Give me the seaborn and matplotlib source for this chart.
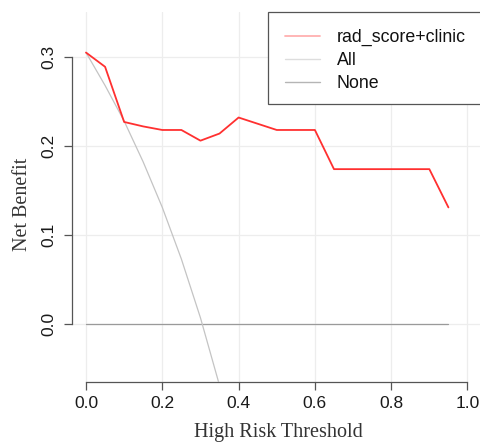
import numpy as np
import pandas as pd
import matplotlib
matplotlib.use("Agg")
import matplotlib.pyplot as plt
import seaborn as sns
from matplotlib.lines import Line2D
from matplotlib.patches import Rectangle

# ---- data ----
thresholds = [0.00, 0.05, 0.10, 0.15, 0.20, 0.25, 0.30, 0.35, 0.40, 0.45,
              0.50, 0.55, 0.60, 0.65, 0.70, 0.75, 0.80, 0.85, 0.90, 0.95]
model_nb = [0.305, 0.289, 0.227, 0.222, 0.218, 0.218, 0.206, 0.214, 0.232, 0.225,
            0.218, 0.218, 0.218, 0.174, 0.174, 0.174, 0.174, 0.174, 0.174, 0.131]
all_thresholds = [0.00, 0.05, 0.10, 0.15, 0.20, 0.25, 0.30, 0.35]
all_nb = [0.305, 0.268, 0.228, 0.182, 0.131, 0.073, 0.007, -0.069]
none_thresholds = [0.00, 0.95]
none_nb = [0.0, 0.0]
labels = ["rad_score+clinic", "All", "None"]
x_ticks = [0.0, 0.2, 0.4, 0.6, 0.8, 1.0]
y_ticks = [0.0, 0.1, 0.2, 0.3]

sns.set_style("white")
plt.rcParams['font.family'] = ['Liberation Sans', 'DejaVu Sans']

W, H = 481, 444
fig = plt.figure(figsize=(W / 100, H / 100), dpi=100)
# axes in pixel coords: left 72, right 481, top 12, bottom 382
ax = fig.add_axes([72 / W, 1 - 382 / H, (481 - 72) / W, (382 - 12) / H])

df_model = pd.DataFrame({"t": thresholds, "nb": model_nb})
df_all = pd.DataFrame({"t": all_thresholds, "nb": all_nb})
df_none = pd.DataFrame({"t": none_thresholds, "nb": none_nb})

grid_c = "#EDEDED"
for xt in x_ticks:
    ax.axvline(xt, color=grid_c, lw=0.9, zorder=0)
for yt in y_ticks:
    ax.axhline(yt, color=grid_c, lw=0.9, zorder=0)

sns.lineplot(data=df_none, x="t", y="nb", color="#9A9A9A", lw=0.9, ax=ax, legend=False, zorder=2)
sns.lineplot(data=df_all, x="t", y="nb", color="#C4C4C4", lw=0.9, ax=ax, legend=False, zorder=3)
sns.lineplot(data=df_model, x="t", y="nb", color="#FF3030", lw=1.3, ax=ax, legend=False, zorder=4)

ax.set_xlim((72 - 86) / 381.5, (481 - 86) / 381.5)
ax.set_ylim(-(382 - 324) / 890, 0.3 + (57 - 12) / 890)

ax.set_xticks(x_ticks)
ax.set_xticklabels([f"{v:.1f}" for v in x_ticks])
ax.set_yticks(y_ticks)
ax.set_yticklabels([f"{v:.1f}" for v in y_ticks], rotation=90, va="center")

for s in ["top", "right"]:
    ax.spines[s].set_visible(False)
ax.spines["left"].set_bounds(0.0, 0.3)
ax.spines["bottom"].set_bounds(0.0, 1.0)
for s in ["left", "bottom"]:
    ax.spines[s].set_color("#555555")
    ax.spines[s].set_linewidth(0.9)

ax.tick_params(axis="both", direction="out", length=5.5, width=0.9, color="#555555",
               labelsize=12.5, labelcolor="#1A1A1A")
ax.tick_params(axis="x", pad=4.5, bottom=True)
ax.tick_params(axis="y", pad=5.5, left=True)

ax.set_xlabel("High Risk Threshold", family=["Liberation Serif", "DejaVu Serif"],
              fontsize=14.5, color="#333333")
ax.set_ylabel("Net Benefit", family=["Liberation Serif", "DejaVu Serif"],
              fontsize=14.5, color="#333333")
ax.xaxis.set_label_coords((278 - 72) / 409, (382 - 432) / 370)
ax.xaxis.label.set_va("center")
ax.yaxis.set_label_coords((22 - 72) / 409, (382 - 204) / 370)
ax.yaxis.label.set_va("center")

# legend
fig.patches.append(Rectangle((268 / W, 1 - 104 / H), (490 - 268) / W, (104 - 12) / H,
                             transform=fig.transFigure, fill=True, facecolor="white",
                             edgecolor="#555555", lw=0.9, zorder=10))
handles = [Line2D([], [], color="#FFB0B0", lw=1.3),
           Line2D([], [], color="#DDDDDD", lw=1.0),
           Line2D([], [], color="#B5B5B5", lw=1.0)]
leg = fig.legend(handles, labels, loc="upper left",
                 bbox_to_anchor=(285 / W, 1 - 29 / H), frameon=False,
                 fontsize=12.8, handlelength=1.95, handletextpad=0.95,
                 labelspacing=0.33, borderpad=0, borderaxespad=0)
for t in leg.get_texts():
    t.set_color("#111111")
leg.set_zorder(11)

fig.savefig("out.png", dpi=100)
